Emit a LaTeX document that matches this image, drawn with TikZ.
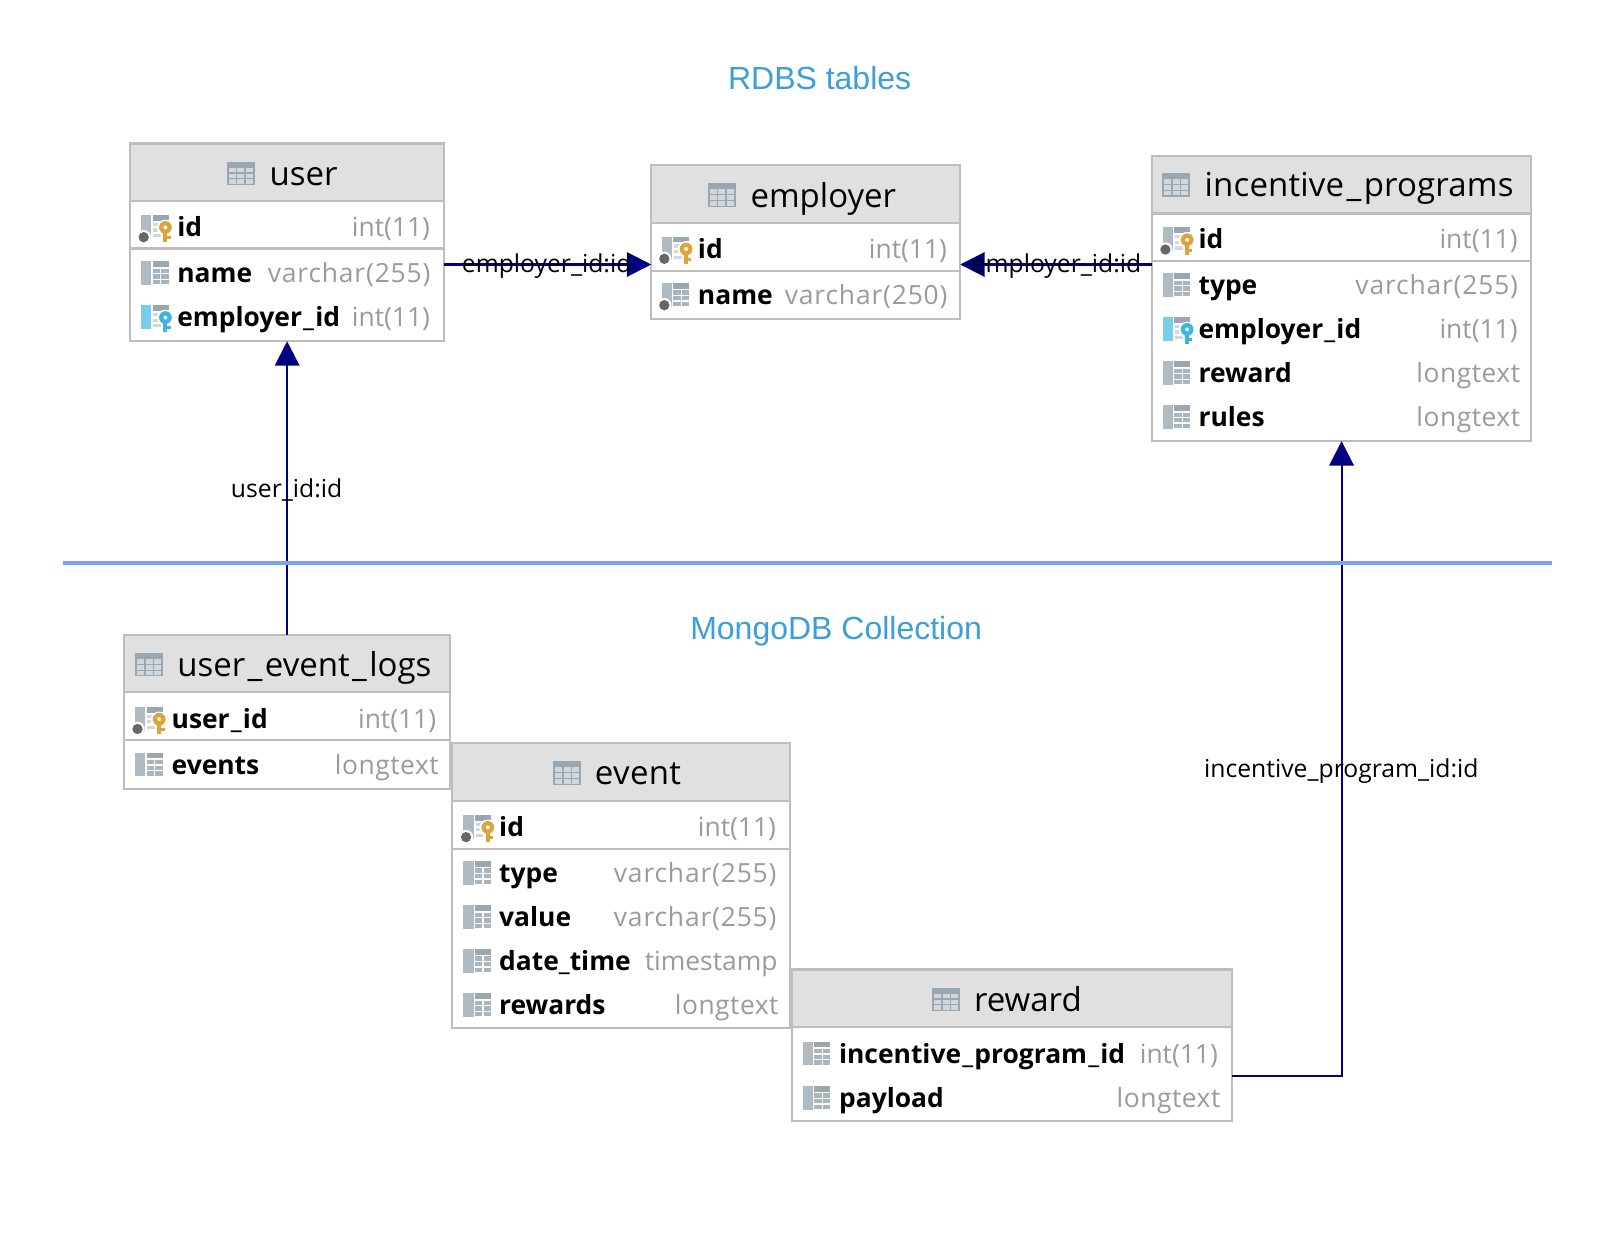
\documentclass[tikz,border=0pt]{standalone}
\usepackage{fontspec}
\setmainfont{Open Sans}
\newfontfamily\capfont{Liberation Sans}
\usetikzlibrary{arrows.meta}
\definecolor{bordergrey}{HTML}{BEBEBE}
\definecolor{headgrey}{HTML}{E0E0E0}
\definecolor{typegrey}{HTML}{9B9B9B}
\definecolor{iconbar}{HTML}{AFBAC2}
\definecolor{icondark}{HTML}{9AA7B0}
\definecolor{iconcell}{HTML}{A9B4BC}
\definecolor{iconlight}{HTML}{D2D7DB}
\definecolor{fkbar}{HTML}{78CDEB}
\definecolor{fkkey}{HTML}{3DB4E6}
\definecolor{pkkey}{HTML}{E0A33C}
\definecolor{dotgrey}{HTML}{666666}
\definecolor{navyline}{HTML}{000080}
\definecolor{sepblue}{HTML}{7F9FF0}
\definecolor{capblue}{HTML}{3C9FD8}
\newcommand\nus{\kern0.6pt\_\kern0.6pt}
\newcommand\tus{\kern1.2pt\_\kern1.2pt}
\newcommand\ls[2]{{\addfontfeature{LetterSpace=#1}#2}}
\tikzset{
  tblbox/.style={draw=bordergrey,line width=1.05pt,fill=white,inner sep=0pt,outer sep=0pt,anchor=north west},
  tblhead/.style={draw=bordergrey,line width=1.05pt,fill=headgrey,inner sep=0pt,outer sep=0pt,anchor=north west},
  tbltitle/.style={anchor=base west,inner sep=0pt,font=\fontsize{16.5}{18}\selectfont,text=black},
  colname/.style={anchor=base west,inner sep=0pt,font=\fontsize{13.2}{15}\selectfont\bfseries,text=black},
  coltype/.style={anchor=base east,inner sep=0pt,font=\fontsize{13.2}{15}\selectfont,text=typegrey},
  rel/.style={draw=navyline,line width=1.05pt},
  relarrow/.style={rel,-{Triangle[length=12.2pt,width=12.2pt,fill=navyline]}},
  rellabel/.style={inner sep=0pt,font=\fontsize{12.35}{14}\selectfont,text=black},
  caption/.style={inner sep=0pt,font=\capfont\fontsize{16}{18}\selectfont,text=capblue},
}
% table frame: name, x1, y1, x2, y2, header bottom
\newcommand\dbtable[6]{%
  \node[tblbox,minimum width={(#4-#2)*0.515pt},minimum height={(#5-#3)*0.515pt}] (#1) at (#2,#3) {};
  \node[tblhead,minimum width={(#4-#2)*0.515pt},minimum height={(#6-#3)*0.515pt}] (#1-head) at (#2,#3) {};
}
% header icon: x left, y centre
\newcommand\headicon[2]{%
  \fill[icondark] (#1,#2-11.5) rectangle (#1+27,#2+11.5);
  \foreach \cx in {0,1,2}\foreach \cy in {0,1,2}
    \fill[iconlight] (#1+2+\cx*8.2,#2-5.5+\cy*5.7) rectangle (#1+2+\cx*8.2+6.8,#2-5.5+\cy*5.7+4.6);
}
% column icon base: x, y centre, bar colour
\newcommand\colbase[3]{%
  \fill[#3] (#1,#2-11.5) rectangle (#1+10,#2+11.5);
  \fill[icondark] (#1+11.5,#2-11.5) rectangle (#1+27,#2-6);
  \foreach \cy in {0,1,2}{
    \fill[iconcell] (#1+11.5,#2-4.3+\cy*5.5) rectangle (#1+18.5,#2-4.3+\cy*5.5+4.2);
    \fill[iconcell] (#1+20,#2-4.3+\cy*5.5) rectangle (#1+27,#2-4.3+\cy*5.5+4.2);
  }
}
\newcommand\notnulldot[2]{%
  \fill[white] (#1+2.7,#2+10) circle (7);
  \fill[dotgrey] (#1+2.7,#2+10) circle (5);
}
\newcommand\keyglyph[3]{%
  \fill[white] (#1+22,#2-7) rectangle (#1+31,#2+15);
  \fill[white] (#1+23.5,#2+1) circle (8);
  \fill[#3] (#1+21.8,#2+3) rectangle (#1+25.8,#2+15);
  \fill[#3] (#1+25,#2+9) rectangle (#1+29,#2+12);
  \fill[#3,even odd rule] (#1+23.8,#2+0.5) circle (6.2) (#1+23.8,#2+0.5) circle (2);
}
\newcommand\iconplain[2]{\colbase{#1}{#2}{iconbar}}
\newcommand\icondot[2]{\colbase{#1}{#2}{iconbar}\notnulldot{#1}{#2}}
\newcommand\iconpk[2]{%
  \fill[iconbar] (#1,#2-11.5) rectangle (#1+10,#2+11.5);
  \fill[icondark] (#1+11.5,#2-11.5) rectangle (#1+27,#2-6);
  \foreach \cy in {0,1,2}\fill[iconlight] (#1+12,#2-4+\cy*5.5) rectangle (#1+19.5,#2-4+\cy*5.5+3);
  \notnulldot{#1}{#2}\keyglyph{#1}{#2}{pkkey}}
\newcommand\iconfk[2]{%
  \fill[fkbar] (#1,#2-11.5) rectangle (#1+10,#2+11.5);
  \fill[icondark] (#1+11.5,#2-11.5) rectangle (#1+27,#2-6);
  \foreach \cy in {0,1,2}\fill[iconlight] (#1+12,#2-4+\cy*5.5) rectangle (#1+19.5,#2-4+\cy*5.5+3);
  \keyglyph{#1}{#2}{fkkey}}
% row: node prefix, icon macro, icon x, text x, type right x, y centre, name, type
\newcommand\dbrow[8]{%
  #2{#3}{#6}
  \node[colname] (#1-n) at (#4,#6+9.4) {#7};
  \node[coltype] (#1-t) at (#5,#6+9.4) {#8};
}
\begin{document}
\begin{tikzpicture}[x=0.515pt,y=-0.515pt]
\useasboundingbox (0,0) rectangle (1569,1209.7);
\fill[white] (0,0) rectangle (1569,1209.7);
\begin{scope}[shift={(0.3,0.3)}]

% captions and separator
\node[caption] (rdbs) at (795.5,75.5) {RDBS tables};
\node[caption] (mongo) at (811.5,613) {MongoDB Collection};
\coordinate (sepl) at (61,546);
\coordinate (sepr) at (1507,546);

% tables
\dbtable{user}{126}{139}{431}{331}{195}
\dbtable{employer}{632}{160}{932}{309}{216}
\dbtable{incentive}{1118}{151}{1486.5}{428}{207}
\dbtable{ulog}{120}{616}{437}{765.5}{672}
\dbtable{event}{438.5}{721}{767}{998}{777}
\dbtable{reward}{768.5}{941}{1195.5}{1088.5}{997}

% connectors
\coordinate (c1) at (0,256.5);
\coordinate (c2) at (0,1044.5);
\draw[relarrow] (user.east |- c1) -- (employer.west |- c1);
\draw[relarrow] (incentive.west |- c1) -- (employer.east |- c1);
\draw[relarrow] (ulog.north) -- (user.south);
\draw[relarrow] (reward.east |- c2) -| (incentive.south);
\draw[sepblue,line width=2pt] (sepl) -- (sepr);
\node[rellabel] (l1) at (530.5,258.5) {employer\_id:id};
\node[rellabel] (l2) at (1025.5,258.5) {employer\_id:id};
\node[rellabel] (l3) at (278,475.5) {user\_id:id};
\node[rellabel] (l4) at (1302,748.5) {incentive\_program\_id:id};

% user
\headicon{220}{168}
\node[tbltitle] (user-title) at (261,179.7) {user};
\draw[bordergrey,line width=1.05pt] (126,241) -- (431,241);
\dbrow{user1}{\iconpk}{136.5}{171.5}{417.5}{220}{id}{int(11)}
\dbrow{user2}{\iconplain}{136.5}{171.5}{418}{265}{name}{\ls{3.2}{varchar(255)}}
\dbrow{user3}{\iconfk}{136.5}{171.5}{417.5}{307.5}{employer\nus id}{int(11)}

% employer
\headicon{687}{189}
\node[tbltitle] (emp-title) at (728,200.7) {employer};
\draw[bordergrey,line width=1.05pt] (632,263) -- (932,263);
\dbrow{emp1}{\iconpk}{642}{677}{919.5}{241}{id}{int(11)}
\dbrow{emp2}{\icondot}{642}{677}{920}{286}{name}{\ls{3.2}{varchar(250)}}

% incentive_programs
\headicon{1128}{179}
\node[tbltitle] (inc-title) at (1169,190.7) {\ls{0.5}{incentive\tus programs}};
\draw[bordergrey,line width=1.05pt] (1118,253.5) -- (1486.5,253.5);
\dbrow{inc1}{\iconpk}{1128.5}{1163}{1473.5}{232}{id}{int(11)}
\dbrow{inc2}{\iconplain}{1128.5}{1163}{1474}{276.5}{type}{\ls{3.2}{varchar(255)}}
\dbrow{inc3}{\iconfk}{1128.5}{1163}{1473.5}{319}{employer\nus id}{int(11)}
\dbrow{inc4}{\iconplain}{1128.5}{1163}{1476}{362}{reward}{\ls{2}{longtext}}
\dbrow{inc5}{\iconplain}{1128.5}{1163}{1476}{404.5}{rules}{\ls{2}{longtext}}

% user_event_logs
\headicon{131}{645}
\node[tbltitle] (log-title) at (171.5,656.7) {user\tus event\tus logs};
\draw[bordergrey,line width=1.05pt] (120,718) -- (437,718);
\dbrow{log1}{\iconpk}{130.5}{166}{423.5}{697.5}{user\nus id}{int(11)}
\dbrow{log2}{\iconplain}{130.5}{166}{426}{742}{events}{\ls{2}{longtext}}

% event
\headicon{537}{750}
\node[tbltitle] (ev-title) at (577,761.7) {\ls{1}{event}};
\draw[bordergrey,line width=1.05pt] (438.5,824) -- (767,824);
\dbrow{ev1}{\iconpk}{449.5}{484}{753.5}{802.5}{id}{int(11)}
\dbrow{ev2}{\iconplain}{449.5}{484}{754}{847}{type}{\ls{3.2}{varchar(255)}}
\dbrow{ev3}{\iconplain}{449.5}{484}{754}{890}{value}{\ls{3.2}{varchar(255)}}
\dbrow{ev4}{\iconplain}{449.5}{484}{755}{932.5}{date\_time}{timestamp}
\dbrow{ev5}{\iconplain}{449.5}{484}{756}{975.5}{rewards}{\ls{2}{longtext}}

% reward
\headicon{905}{970}
\node[tbltitle] (rw-title) at (945,981.7) {reward};
\dbrow{rw1}{\iconplain}{779}{814}{1182.5}{1022.5}{incentive\nus program\nus id}{int(11)}
\dbrow{rw2}{\iconplain}{779}{814}{1185}{1065.5}{payload}{\ls{2}{longtext}}
\end{scope}
\end{tikzpicture}
\end{document}
